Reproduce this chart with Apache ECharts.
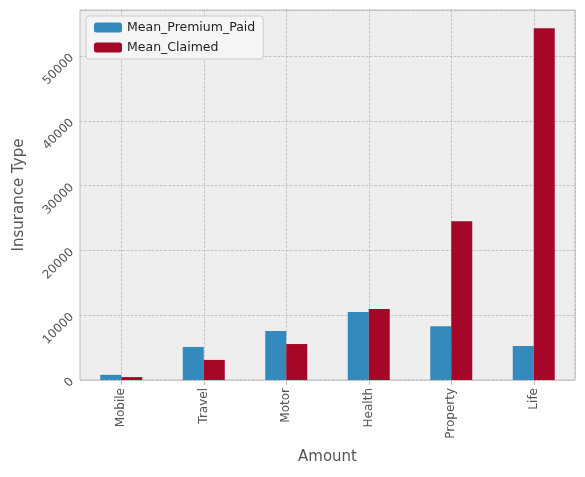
<!DOCTYPE html>
<html>
<head>
<meta charset="utf-8">
<script src="https://cdn.jsdelivr.net/npm/echarts@6/dist/echarts.min.js"></script>
<style>html,body{margin:0;padding:0;background:#fff}#chart{width:585px;height:477px}</style>
</head>
<body>
<div id="chart"></div>
<script>
var categories = ["Mobile", "Travel", "Motor", "Health", "Property", "Life"]
var premiumPaid = [800, 5100, 7550, 10500, 8300, 5250]
var claimed = [450, 3100, 5550, 10950, 24500, 54300]
var yTicks = [0, 10000, 20000, 30000, 40000, 50000]

// half-slots so the vertical grid goes through the centre of each category
var halfSlots = []
categories.forEach(function(c) { halfSlots.push(c + '_a', c + '_b') })

var chart = echarts.init(document.getElementById('chart'))
var txt = {color: '#555', fontFamily: 'DejaVu Sans', fontSize: 12}
chart.setOption({
	animation: false,
	textStyle: {fontFamily: 'DejaVu Sans'},
	legend: {
		left: 86, top: 16, orient: 'vertical', itemWidth: 28, itemHeight: 10, itemGap: 7,
		backgroundColor: '#f5f5f5', borderColor: '#ccc', borderWidth: 1, borderRadius: 3, padding: [5, 8],
		textStyle: {color: '#222', fontSize: 12.5, fontFamily: 'DejaVu Sans'},
		data: ['Mean_Premium_Paid', 'Mean_Claimed']
	},
	grid: {left: 80, right: 10, top: 10, bottom: 97, backgroundColor: '#eeeeee', show: true, borderColor: '#bcbcbc', borderWidth: 1},
	xAxis: [{
		type: 'category', data: categories,
		name: 'Amount', nameLocation: 'middle', nameGap: 70,
		nameTextStyle: {color: '#555', fontSize: 15, fontFamily: 'DejaVu Sans'},
		axisLine: {show: false}, axisTick: {show: true, alignWithLabel: true, lineStyle: {color: '#bcbcbc'}},
		axisLabel: Object.assign({rotate: 90}, txt),
		splitLine: {show: false}
	}, {
		type: 'category', data: halfSlots, position: 'bottom',
		axisLine: {show: false}, axisTick: {show: false}, axisLabel: {show: false},
		splitLine: {show: true, interval: function(i) { return i % 2 === 1 }, lineStyle: {color: '#b2b2b2', type: 'dashed', width: 0.7}}
	}],
	yAxis: {
		type: 'value', min: 0, max: 57100, interval: 10000,
		name: 'Insurance Type', nameLocation: 'middle', nameGap: 53,
		nameTextStyle: {color: '#555', fontSize: 15, fontFamily: 'DejaVu Sans'},
		axisLine: {show: false}, axisTick: {show: false},
		axisLabel: Object.assign({rotate: 45, showMaxLabel: false,
			formatter: function(v) { return yTicks.indexOf(v) >= 0 ? v : '' }}, txt),
		splitLine: {lineStyle: {color: '#b2b2b2', type: 'dashed', width: 0.7}}
	},
	series: [
		{name: 'Mean_Premium_Paid', type: 'bar', data: premiumPaid, barWidth: 21, barGap: '0%', itemStyle: {color: '#348ABD'}},
		{name: 'Mean_Claimed', type: 'bar', data: claimed, barWidth: 21, itemStyle: {color: '#A60628'}}
	]
})
</script>
</body>
</html>
